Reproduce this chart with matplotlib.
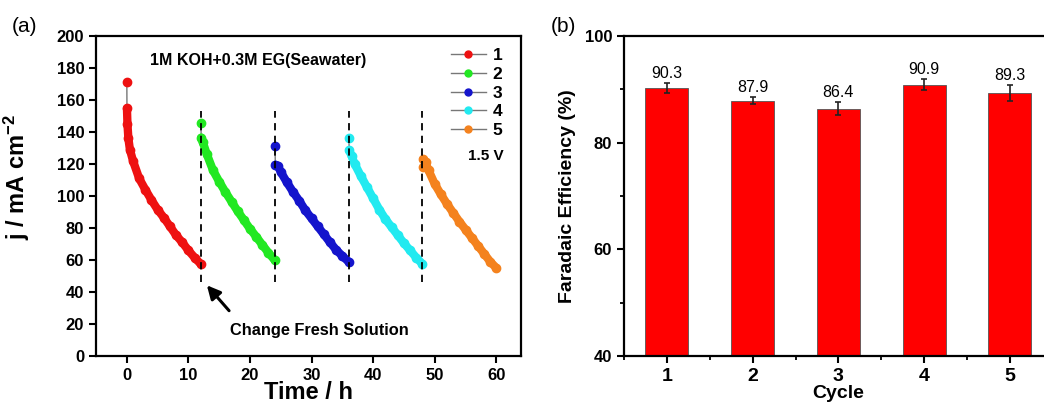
import matplotlib
matplotlib.use("Agg")
import matplotlib.pyplot as plt
from matplotlib.lines import Line2D
from matplotlib.ticker import MultipleLocator

plt.rcParams['font.family'] = ['Liberation Sans', 'DejaVu Sans']
plt.rcParams['font.weight'] = 'bold'
plt.rcParams['axes.labelweight'] = 'bold'
plt.rcParams['mathtext.fontset'] = 'custom'
plt.rcParams['mathtext.rm'] = 'Liberation Sans:bold'
plt.rcParams['mathtext.default'] = 'rm'

# ---- panel (a): chronoamperometry, 5 cycles at 1.5 V ----
t1 = [0.0, 0.02, 0.1, 0.25, 0.5, 1, 2, 3, 4, 5, 6, 7, 8, 9, 10, 11, 12]
j1 = [171, 154.8, 145, 136, 129, 122, 111, 104, 97.5, 91.5, 86.5, 81, 75.5, 71, 66, 61.5, 57.5]
t2 = [12.02, 12.08, 12.3, 13, 14, 15, 16, 17, 18, 19, 20, 21, 22, 23, 24]
j2 = [145.4, 136.5, 134, 126, 116, 109, 102.5, 96.5, 90.5, 85, 79.5, 74.6, 69.5, 64.5, 60]
t3 = [24.05, 24.12, 24.5, 25, 26, 27, 28, 29, 30, 31, 32, 33, 34, 35, 36]
j3 = [131.3, 119.5, 119, 115, 108.5, 102.5, 97, 91, 86, 81, 76, 71, 66.3, 62.5, 59]
t4 = [36.05, 36.12, 36.5, 37, 38, 39, 40, 41, 42, 43, 44, 45, 46, 47, 48]
j4 = [136, 128.5, 125, 120, 112.5, 105.5, 98.5, 91.5, 85.5, 80.5, 75.5, 70.5, 66, 61.5, 57.5]
t5 = [48.05, 48.15, 48.5, 49, 50, 51, 52, 53, 54, 55, 56, 57, 58, 59, 60]
j5 = [118, 123, 121, 116, 107.5, 101, 95, 89.5, 84, 79, 74, 69, 64, 59, 55]

cycle_names = ['1', '2', '3', '4', '5']
cycle_colors = ['#ee1111', '#22e822', '#1414cc', '#22eaf0', '#f4821e']
change_times = [12, 24, 36, 48]

# ---- panel (b): Faradaic efficiency ----
cycles = [1, 2, 3, 4, 5]
fe = [90.3, 87.9, 86.4, 90.9, 89.3]
fe_err = [0.9, 0.6, 1.2, 1.0, 1.55]

fig = plt.figure(figsize=(10.44, 4.05), dpi=100)
ax1 = fig.add_axes([0.092, 0.121, 0.407, 0.790])
ax2 = fig.add_axes([0.5977, 0.121, 0.4107, 0.790])

for ax in (ax1, ax2):
    for sp in ax.spines.values():
        sp.set_linewidth(1.6)
    ax.tick_params(direction='out', width=1.5, length=5, labelsize=12)
    ax.tick_params(which='minor', direction='out', width=1.3, length=3)

# (a) curves: grey connecting line below, thick coloured trace, then markers
series = [(t1, j1), (t2, j2), (t3, j3), (t4, j4), (t5, j5)]
handles = []
for (t, j), name, c in zip(series, cycle_names, cycle_colors):
    ax1.plot(t, j, color='#777777', lw=1, zorder=2)
    ax1.plot(t[1:], j[1:], color=c, lw=6, solid_capstyle='round', zorder=3)
    ax1.plot(t, j, 'o', ms=6, mfc=c, mec=c, mew=1, zorder=4)
    handles.append(Line2D([], [], color='#777777', lw=1, marker='o', ms=5,
                          mfc=c, mec=c, label=name))

for tc in change_times:
    ax1.plot([tc, tc], [46, 153], color='black', lw=1.3, dashes=(4, 3), zorder=5)

ax1.annotate('', xy=(12.7, 45.5), xytext=(16.9, 27),
             arrowprops=dict(arrowstyle='-|>', color='black', lw=2.2, mutation_scale=20))
ax1.text(31.2, 16, 'Change Fresh Solution', ha='center', va='center', fontsize=11.8)
ax1.text(21.3, 185, '1M KOH+0.3M EG(Seawater)', ha='center', va='center', fontsize=11.5)

ax1.legend(handles=handles, loc='upper right', frameon=False, fontsize=12.5,
           handlelength=2.0, handletextpad=0.4, labelspacing=0.2,
           borderaxespad=0.3, bbox_to_anchor=(0.985, 1.0))
ax1.text(0.96, 0.625, '1.5 V', transform=ax1.transAxes, ha='right', va='center',
         fontsize=11)

ax1.set_xlim(-5, 64)
ax1.set_ylim(0, 200)
ax1.xaxis.set_major_locator(MultipleLocator(10))
ax1.yaxis.set_major_locator(MultipleLocator(20))
ax1.set_xlabel('Time / h', fontsize=17, labelpad=-1)
ax1.set_ylabel(r'j / mA cm$^{-2}$', fontsize=17)
ax1.yaxis.set_label_coords(-0.15, 0.56)
fig.text(0.011, 0.935, '(a)', fontsize=15, weight='normal', va='center')

# (b) bars
ax2.bar(cycles, fe, width=0.5, color='#ff0000', edgecolor='#555555', lw=0.6, zorder=2)
ax2.errorbar(cycles, fe, yerr=fe_err, fmt='none', ecolor='#222222', elinewidth=1.2,
             capsize=2.5, capthick=1.2, zorder=3)
for x, v, e in zip(cycles, fe, fe_err):
    ax2.text(x, v + e + 0.4, f'{v:.1f}', ha='center', va='bottom', fontsize=11.5,
             weight='normal')
ax2.set_xlim(0.5, 5.5)
ax2.set_ylim(40, 100)
ax2.set_xticks(cycles)
ax2.xaxis.set_minor_locator(MultipleLocator(0.5))
ax2.yaxis.set_major_locator(MultipleLocator(20))
ax2.yaxis.set_minor_locator(MultipleLocator(10))
ax2.tick_params(axis='x', which='major', labelsize=14)
ax2.set_xlabel('Cycle', fontsize=14, labelpad=0)
ax2.set_ylabel('Faradaic Efficiency (%)', fontsize=14, labelpad=6)
fig.text(0.528, 0.935, '(b)', fontsize=15, weight='normal', va='center')

fig.savefig('out.png', dpi=100)
